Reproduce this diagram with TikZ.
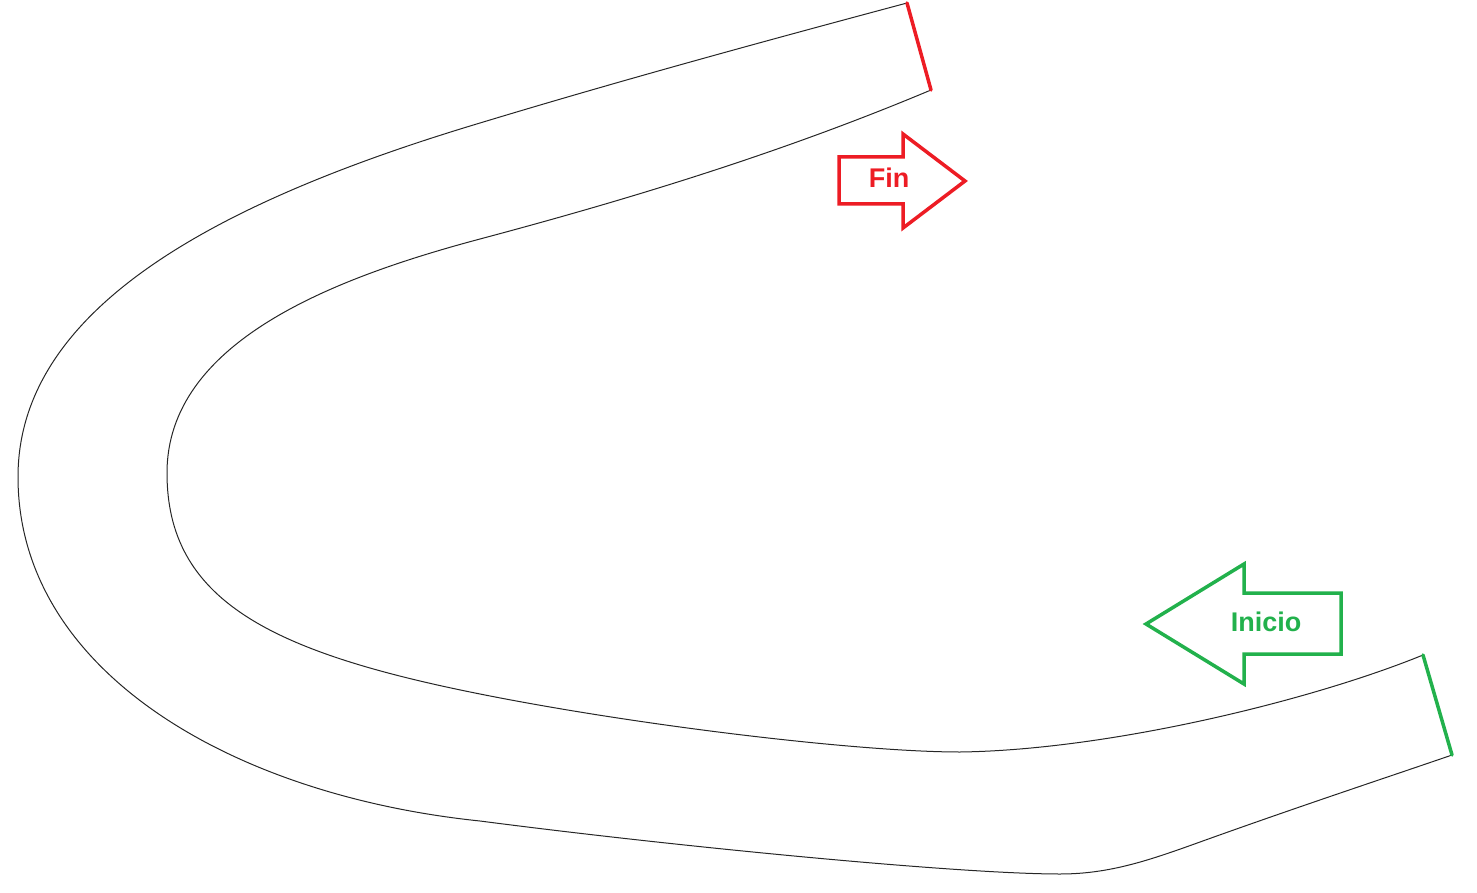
\documentclass[tikz,border=0pt]{standalone}
\usepackage{fontspec}
\setmainfont{Liberation Sans}
\definecolor{finred}{HTML}{ED1C24}
\definecolor{iniciogreen}{HTML}{22B14C}
\begin{document}
\begin{tikzpicture}[x=1pt,y=-1pt,
  trackline/.style={black!85, line width=1pt},
  endline/.style={line width=3.5pt, line cap=round},
  bigarrow/.style={line width=3.5pt, line join=miter},
  lbl/.style={inner sep=0pt, font=\fontsize{27}{27}\selectfont\bfseries}]
\useasboundingbox (0,0) rectangle (1477,893);
% track end points
\coordinate (o1) at (907,3);
\coordinate (i1) at (931,90);
\coordinate (o2) at (1452,755);
\coordinate (i2) at (1423,655);
% outer edge
\draw[trackline] (o1)
  .. controls (765,41) and (622,80) .. (480,123)
  .. controls (220,201) and (18,307) .. (18,477)
  .. controls (18,670) and (230,795) .. (480,821)
  .. controls (680,847) and (960,874) .. (1060,874)
  .. controls (1110,874) and (1150,860) .. (1200,842)
  .. controls (1300,806) and (1400,773) .. (o2);
% inner edge
\draw[trackline] (i1)
  .. controls (781,153) and (630,199) .. (480,239)
  .. controls (330,279) and (167,343) .. (167,473)
  .. controls (167,600) and (270,652) .. (480,694)
  .. controls (640,726) and (860,752) .. (960,752)
  .. controls (1110,750) and (1313,700) .. (i2);
% finish and start lines
\draw[endline, finred] (o1) -- (i1);
\draw[endline, iniciogreen] (i2) -- (o2);
% Fin arrow
\draw[bigarrow, finred] (839,157) -- (903,157) -- (903,134) -- (965,181) -- (903,228)
  -- (903,204) -- (839,204) -- cycle;
\node[lbl, text=finred] (fin) at (889,178) {Fin};
% Inicio arrow
\draw[bigarrow, iniciogreen] (1146,624) -- (1244,564) -- (1244,593) -- (1341,593)
  -- (1341,654) -- (1244,654) -- (1244,684) -- cycle;
\node[lbl, text=iniciogreen] (inicio) at (1266,622) {Inicio};
\end{tikzpicture}
\end{document}
